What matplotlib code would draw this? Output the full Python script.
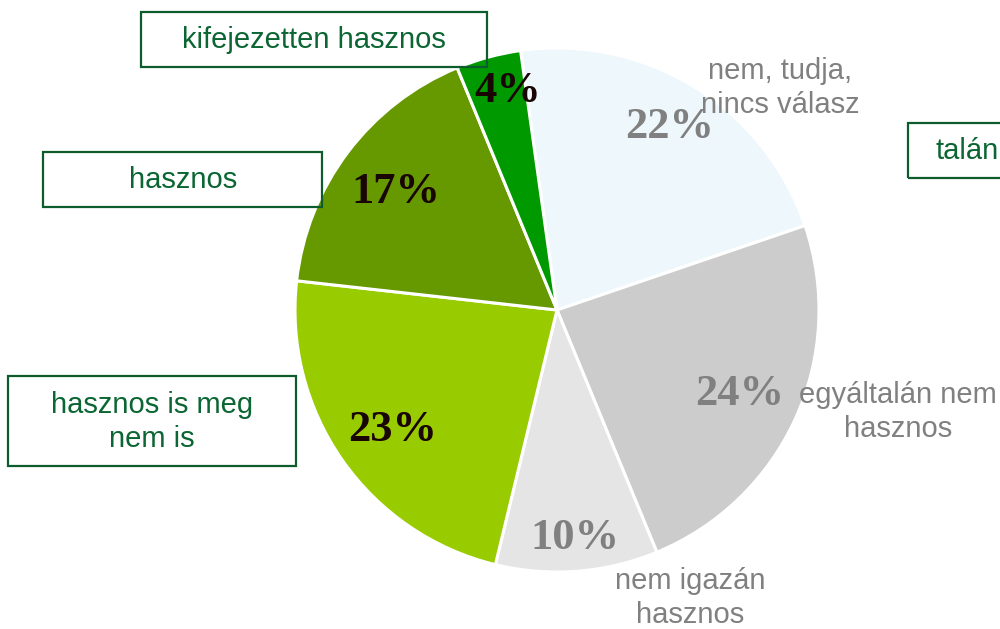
import matplotlib.pyplot as plt
from matplotlib.patches import Rectangle

# slices, clockwise from the top
labels = ['nem, tudja,\nnincs válasz', 'egyáltalán nem\nhasznos', 'nem igazán\nhasznos',
          'hasznos is meg\nnem is', 'hasznos', 'kifejezetten hasznos']
values = [22, 24, 10, 23, 17, 4]
colors = ['#EEF8FC', '#CCCCCC', '#E5E5E5', '#99CC00', '#669900', '#009900']
pct_colors = ['#808080', '#808080', '#808080', '#1a0505', '#1a0505', '#1a0505']

# label positions in pixels (x, y from top)
pct_pos = [(670, 127), (740, 394), (575, 538), (393, 430), (396, 192), (508, 91)]
cat_pos = [(780, 88), (898, 412), (690, 598), (152, 422), (183, 180), (314, 40)]
boxes = [None, None, None, (8, 376, 288, 90), (43, 152, 279, 55), (141, 12, 346, 55)]
H = 629

fig = plt.figure(figsize=(10, 6.29), dpi=100)
ax = fig.add_axes([0, 0, 1, 1])

ax.pie(values, colors=colors, startangle=98, counterclock=False,
       center=(557, H - 310), radius=262,
       wedgeprops=dict(edgecolor='white', linewidth=2.2))

ax.set_xlim(0, 1000)
ax.set_ylim(0, H)
ax.set_aspect('equal')
ax.axis('off')

for v, (x, y), c in zip(values, pct_pos, pct_colors):
    ax.text(x, H - y, f'{v}%', ha='center', va='center', fontsize=32,
            fontweight='bold', family='Liberation Serif', color=c)

green = '#0b6633'
for lab, (x, y), b in zip(labels, cat_pos, boxes):
    col = '#808080' if b is None else green
    ax.text(x, H - y, lab, ha='center', va='center', fontsize=21,
            family='Liberation Sans', color=col, linespacing=1.28)
    if b is not None:
        bx, by, bw, bh = b
        ax.add_patch(Rectangle((bx, H - by - bh), bw, bh, fill=False,
                               edgecolor='#0d5c2e', linewidth=1.6))

# "talán" box, cut off at the right edge
ax.add_patch(Rectangle((908, H - 178), 120, 55, fill=False, edgecolor='#0d5c2e',
                       linewidth=1.6))
ax.text(935, H - 151, 'talán', ha='left', va='center', fontsize=21,
        family='Liberation Sans', color=green)

fig.savefig('out.png', dpi=100)
